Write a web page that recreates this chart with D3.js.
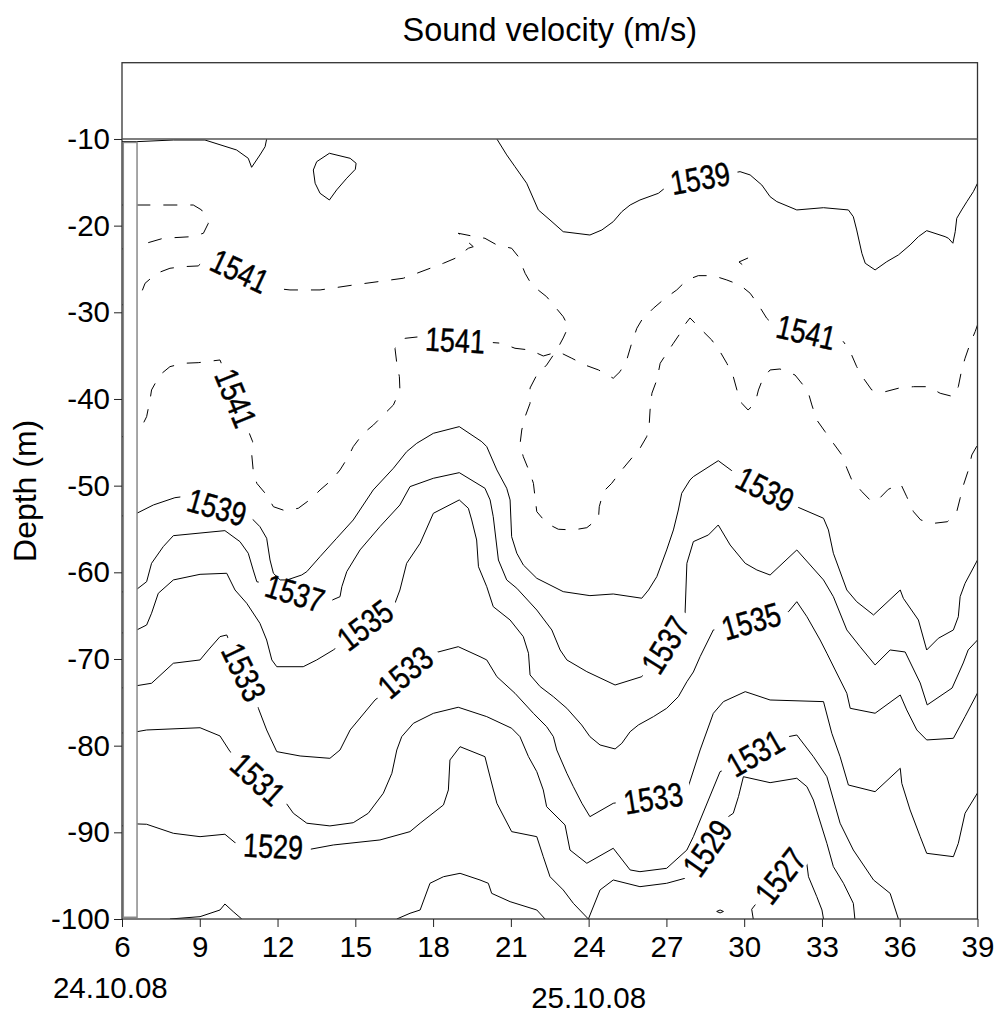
<!DOCTYPE html>
<html>
<head>
<meta charset="utf-8">
<script src="https://cdn.jsdelivr.net/npm/d3@7"></script>
<style>
  body { margin: 0; background: #fff; }
  svg { display: block; font-family: "Liberation Sans", Arial, sans-serif; }
</style>
</head>
<body>
<svg id="chart" width="1001" height="1017"></svg>
<script>
// axis values
const x_ticks = [6, 9, 12, 15, 18, 21, 24, 27, 30, 33, 36, 39];
const y_ticks = [-10, -20, -30, -40, -50, -60, -70, -80, -90, -100];
const x_range = [6, 39];
const top_depth = -1.2;      // top of the empty box above the data
const data_top = -10;
const data_bottom = -100;
const dates = [['24.10.08', 5.55, 0], ['25.10.08', 24, 1]];

// contour lines, [hour, depth]
const c1539_nw = [[6.0,-10.3],[6.57,-10.31],[7.98,-10.12],[9.2,-10.12],[10.42,-11.27],[10.87,-12.23],[11.0,-13.27],[11.32,-11.85],[11.52,-10.89],[11.58,-10.0]];
const c1539_loop = [[14.0,-11.65],[14.8,-12.23],[15.03,-12.8],[15.0,-13.5],[14.67,-14.53],[14.28,-15.88],[14.0,-17.04],[13.64,-16.27],[13.45,-15.11],[13.38,-13.58],[13.51,-12.62],[14.0,-11.65]];
const c1539_top = [[20.46,-10.0],[20.84,-11.84],[21.16,-13.2],[21.61,-15.11],[22.06,-18.19],[22.51,-19.35],[23.02,-20.7],[24.05,-21.08],[24.51,-20.5],[24.95,-19.54],[25.28,-18.39],[25.6,-17.62],[25.98,-17.04],[26.69,-16.27],[27.01,-15.5],[29.84,-13.77],[30.23,-14.15],[30.68,-15.31],[31.0,-16.66],[31.26,-17.23],[32.03,-18.19],[33.06,-17.93],[34.02,-18.19],[34.21,-18.97],[34.34,-20.5],[34.54,-23.19],[34.67,-24.34],[35.05,-25.11],[35.5,-24.16],[35.95,-23.38],[36.4,-22.23],[36.72,-21.27],[37.04,-20.58],[37.75,-21.27],[37.88,-21.46],[38.05,-22.03],[38.14,-20.7],[38.2,-19.15],[38.39,-18.19],[38.59,-17.23],[38.84,-16.08],[39.0,-15.11]];
const c1541_nw = [[6.0,-22.69],[6.57,-22.35],[7.59,-21.46],[8.69,-21.27],[9.14,-20.88],[9.33,-19.73],[9.07,-18.19],[8.75,-17.62],[7.08,-17.62],[6.0,-17.62]];
const c1541_a = [[6.0,-29.15],[6.58,-28.58],[6.69,-28.2],[6.89,-26.65],[7.34,-25.5],[7.85,-24.92],[8.36,-24.73],[8.94,-24.65],[9.33,-23.58],[11.9,-27.23],[12.48,-27.42],[13.64,-27.42],[14.92,-26.85],[16.85,-26.07],[17.37,-25.5],[18.4,-24.34],[18.85,-23.77],[19.36,-22.61],[19.55,-22.43],[18.97,-20.88],[19.49,-21.19],[20.0,-21.46],[20.46,-22.23],[21.03,-22.61],[21.29,-23.58],[21.55,-25.5],[21.81,-26.85],[22.38,-28.2],[23.02,-30.5],[23.22,-31.66],[23.02,-32.96],[22.77,-34.35],[22.38,-36.08],[22.0,-37.23],[21.74,-38.73],[21.74,-40.5],[21.55,-42.04],[21.42,-43.58],[21.35,-45.31],[21.48,-46.66],[21.74,-48.57],[21.87,-49.73],[21.93,-51.27],[22.0,-53.0],[22.38,-54.34],[22.83,-55.03],[23.41,-55.11],[23.93,-54.85],[24.38,-53.76],[24.41,-52.43],[24.57,-50.69],[24.89,-49.73],[25.28,-48.19],[25.6,-47.04],[25.98,-45.69],[26.24,-44.35],[26.34,-42.8],[26.37,-41.27],[26.44,-39.34],[26.63,-37.81],[26.76,-35.88],[27.01,-34.73],[27.27,-33.57],[27.53,-32.42],[27.65,-31.66],[27.91,-30.65],[28.36,-32.04],[28.75,-33.2],[29.07,-34.54],[29.33,-35.88],[29.58,-37.43],[29.72,-38.96],[29.91,-40.5],[30.15,-41.27],[30.42,-40.5],[30.55,-38.96],[30.73,-37.58],[31.0,-36.65],[31.38,-36.54],[31.96,-37.23],[32.27,-38.38],[32.48,-39.34],[32.61,-40.69],[32.8,-42.42],[33.12,-43.77],[33.44,-45.11],[33.77,-46.46],[33.96,-47.99],[34.15,-49.34],[34.54,-50.69],[34.92,-51.85],[35.22,-51.46],[35.56,-50.42],[36.04,-49.81],[36.27,-51.27],[36.53,-53.0],[36.81,-53.96],[37.33,-54.34],[37.84,-54.16],[38.2,-53.0],[38.33,-51.46],[38.46,-49.92],[38.65,-48.19],[38.78,-46.46],[39.0,-45.31]];
const c1541_b = [[6.0,-44.38],[6.76,-43.19],[6.95,-42.04],[7.08,-40.11],[7.14,-38.96],[7.46,-37.23],[7.85,-36.27],[8.36,-35.88],[8.94,-35.81],[9.78,-35.5],[11.04,-44.93],[11.0,-46.26],[11.06,-48.19],[11.2,-49.73],[11.58,-51.08],[11.84,-52.43],[12.29,-52.89],[12.8,-52.61],[13.32,-51.46],[13.64,-50.5],[14.09,-49.34],[14.41,-48.19],[14.73,-46.66],[14.92,-45.5],[15.31,-43.96],[15.7,-43.0],[16.08,-41.85],[16.47,-40.69],[16.72,-38.96],[16.7,-37.43],[16.6,-35.88],[16.53,-34.15],[16.92,-33.0],[17.38,-32.85],[20.65,-33.57],[21.16,-34.15],[21.74,-34.35],[22.25,-35.04],[22.83,-34.54],[23.35,-35.3],[23.86,-36.08],[24.38,-36.65],[24.95,-37.61],[25.21,-36.85],[25.47,-35.5],[25.66,-33.57],[25.86,-31.84],[26.05,-30.88],[26.5,-29.53],[26.95,-28.38],[27.4,-27.42],[27.79,-26.27],[28.23,-25.77],[28.81,-25.77],[29.33,-26.27],[29.84,-26.85],[30.23,-27.8],[30.55,-29.15],[30.87,-30.69],[31.07,-31.27],[33.83,-33.39],[34.09,-34.54],[34.34,-36.27],[34.6,-37.61],[34.92,-38.96],[35.44,-39.16],[35.95,-38.76],[36.53,-38.58],[37.11,-38.58],[37.56,-39.34],[38.07,-39.73],[38.26,-38.58],[38.39,-36.65],[38.52,-35.3],[38.72,-33.57],[38.91,-32.23],[39.0,-31.46]];
const c1541_hook = [[30.15,-23.73],[29.8,-24.19],[30.04,-24.77]];
const c1539_b = [[6.0,-53.5],[6.57,-53.19],[7.21,-52.23],[8.04,-51.39],[8.24,-51.31],[11.0,-53.76],[11.32,-54.73],[11.58,-56.07],[11.71,-58.58],[11.84,-60.11],[12.1,-60.88],[12.37,-60.88],[12.93,-60.31],[13.13,-59.92],[13.64,-58.19],[14.28,-56.07],[14.92,-53.96],[15.69,-50.5],[16.47,-47.99],[16.98,-46.08],[17.37,-45.11],[18.01,-43.96],[19.01,-43.19],[19.88,-44.93],[20.07,-45.5],[20.46,-48.19],[20.84,-50.3],[20.97,-51.65],[21.03,-55.89],[21.23,-57.8],[21.48,-59.15],[22.0,-60.69],[22.51,-61.46],[23.02,-62.23],[24.05,-62.69],[24.95,-62.5],[26.05,-62.99],[26.31,-62.04],[26.63,-60.5],[27.01,-57.42],[27.27,-55.11],[27.46,-52.81],[27.59,-50.88],[27.91,-49.34],[28.04,-48.96],[29.0,-47.12],[29.52,-48.27],[32.03,-52.43],[33.06,-53.76],[33.25,-55.11],[33.44,-57.8],[33.96,-62.04],[34.34,-63.39],[34.99,-64.92],[36.02,-62.04],[36.14,-63.0],[36.72,-65.5],[37.04,-68.96],[37.49,-67.61],[38.07,-66.65],[38.26,-65.12],[38.33,-62.81],[38.52,-61.27],[39.0,-58.58]];
const c1537 = [[6.0,-62.27],[6.57,-61.96],[6.95,-61.08],[7.14,-58.96],[7.59,-57.04],[7.98,-55.77],[9.97,-55.19],[10.55,-56.46],[10.87,-57.8],[11.06,-59.73],[11.2,-61.08],[13.96,-63.39],[14.41,-62.81],[14.48,-61.66],[14.67,-59.92],[15.18,-57.42],[15.95,-54.73],[16.72,-52.23],[17.11,-50.11],[18.01,-49.15],[19.01,-48.5],[20.0,-50.3],[20.2,-51.65],[20.32,-53.58],[20.52,-58.58],[20.84,-60.88],[21.23,-61.84],[22.0,-64.35],[22.58,-66.65],[22.9,-68.96],[23.16,-70.11],[23.93,-71.46],[25.02,-73.0],[26.05,-72.04],[27.72,-64.72],[27.79,-58.96],[28.04,-56.46],[28.62,-55.69],[29.0,-54.54],[29.46,-56.85],[30.04,-58.96],[30.49,-59.73],[31.0,-60.31],[32.03,-57.42],[33.06,-60.88],[33.44,-62.81],[33.96,-66.65],[34.47,-68.58],[35.05,-70.69],[35.63,-68.96],[36.21,-69.19],[36.79,-72.77],[37.06,-75.3],[38.02,-73.35],[38.45,-70.46],[38.64,-68.96],[39.0,-67.81]];
const c1535 = [[6.0,-67.0],[6.57,-66.65],[6.95,-66.08],[7.14,-64.72],[7.4,-62.42],[7.98,-60.88],[9.01,-60.23],[10.04,-60.11],[10.36,-62.04],[10.81,-63.57],[11.32,-65.88],[11.58,-67.81],[11.78,-70.11],[11.97,-70.89],[12.99,-70.89],[13.51,-70.11],[14.15,-68.96],[16.53,-63.57],[16.72,-62.04],[16.98,-58.96],[17.5,-56.65],[18.01,-53.19],[19.01,-51.65],[19.36,-52.61],[19.49,-53.96],[19.68,-56.27],[19.75,-59.35],[20.07,-61.66],[20.32,-63.96],[20.97,-65.5],[21.48,-67.42],[21.68,-69.34],[21.74,-71.84],[22.13,-73.19],[22.64,-74.35],[23.16,-75.69],[23.73,-77.61],[24.05,-78.96],[24.44,-79.92],[25.02,-80.38],[25.28,-79.73],[25.6,-78.39],[25.92,-77.61],[26.5,-76.65],[27.01,-75.69],[27.46,-74.35],[27.79,-72.62],[28.04,-71.5],[28.3,-69.73],[28.81,-66.65],[31.71,-64.54],[32.03,-63.39],[32.42,-65.12],[32.93,-67.81],[33.19,-69.34],[33.51,-71.27],[33.96,-73.96],[34.09,-75.69],[35.05,-76.26],[36.02,-74.15],[36.27,-75.88],[36.66,-78.19],[37.04,-79.34],[38.07,-79.15],[38.52,-76.65],[39.0,-73.92]];
const c1533 = [[6.0,-73.34],[6.57,-73.08],[7.14,-72.8],[7.98,-70.49],[9.01,-70.11],[9.33,-68.96],[9.78,-67.42],[10.04,-67.23],[11.26,-75.69],[11.58,-78.19],[11.97,-80.69],[12.87,-81.19],[14.02,-81.46],[14.41,-80.5],[14.8,-78.19],[15.12,-77.04],[15.76,-74.73],[18.01,-69.34],[18.97,-68.58],[19.81,-69.73],[20.07,-70.11],[20.46,-72.04],[21.16,-73.96],[21.87,-76.27],[22.38,-77.81],[22.64,-78.96],[22.77,-80.5],[23.16,-83.19],[23.41,-84.73],[23.74,-86.65],[24.05,-88.19],[24.95,-86.65],[27.79,-85.23],[28.3,-80.5],[28.81,-76.27],[29.2,-74.92],[30.04,-73.77],[31.0,-74.73],[33.06,-74.92],[33.38,-78.57],[33.7,-81.27],[34.02,-84.54],[35.05,-85.31],[36.02,-82.61],[36.08,-84.35],[36.4,-87.42],[36.79,-90.5],[37.04,-92.42],[38.07,-92.81],[38.26,-91.27],[38.52,-87.8],[39.0,-85.46]];
const c1531 = [[6.0,-78.54],[6.57,-78.39],[6.95,-78.19],[9.01,-77.93],[9.78,-78.88],[10.17,-80.69],[12.29,-86.46],[12.61,-87.8],[13.13,-88.95],[14.02,-89.26],[14.92,-88.89],[15.5,-87.8],[16.08,-85.49],[16.41,-83.19],[16.6,-80.5],[16.79,-78.96],[17.24,-77.42],[18.01,-76.27],[18.97,-75.57],[20.07,-76.65],[21.03,-77.99],[21.35,-78.96],[21.68,-81.27],[22.0,-83.0],[22.25,-85.11],[22.38,-87.04],[23.09,-89.15],[23.28,-92.04],[23.93,-93.57],[24.95,-91.84],[25.6,-94.34],[25.98,-94.54],[27.01,-94.15],[27.79,-92.04],[28.04,-90.5],[28.62,-86.27],[29.07,-83.0],[31.71,-78.96],[32.03,-78.77],[32.67,-81.27],[33.19,-83.58],[33.7,-88.95],[34.21,-92.04],[34.99,-95.5],[35.63,-97.04],[35.95,-100.0]];
const c1529 = [[6.0,-89.26],[6.57,-89.03],[6.95,-89.07],[7.98,-90.11],[9.01,-90.5],[9.97,-90.22],[10.36,-91.19],[13.25,-91.96],[14.15,-91.46],[15.95,-90.88],[17.11,-89.92],[17.5,-88.95],[18.4,-86.84],[18.59,-85.11],[18.65,-81.65],[19.04,-80.12],[20.0,-81.27],[20.13,-82.81],[20.46,-86.65],[21.03,-89.92],[22.0,-90.5],[22.25,-92.81],[22.51,-95.12],[23.02,-96.65],[23.41,-98.19],[23.99,-100.0],[24.44,-96.65],[24.95,-95.5],[25.98,-96.27],[27.01,-95.88],[27.72,-95.3],[29.39,-88.19],[29.58,-87.8],[29.78,-85.88],[29.97,-83.58],[31.0,-84.27],[32.03,-83.76],[32.42,-84.73],[32.67,-86.27],[33.19,-91.27],[33.44,-93.96],[33.83,-95.88],[34.21,-98.19],[34.27,-100.0]];
const c1527_a = [[7.85,-100.0],[9.01,-99.73],[9.78,-98.96],[9.97,-98.27],[10.29,-99.15],[10.62,-100.0]];
const c1527_b = [[16.6,-100.0],[17.11,-99.34],[17.5,-98.96],[17.88,-95.88],[18.4,-95.12],[19.04,-94.73],[19.81,-95.5],[20.13,-95.88],[20.26,-97.04],[20.97,-98.0],[22.0,-98.96],[22.32,-100.0]];
const c1527_c = [[30.35,-100.0],[30.29,-98.88],[30.42,-98.38],[32.35,-92.04],[32.48,-95.12],[32.8,-97.42],[33.0,-98.96],[33.06,-100.0]];
const c1527_dot = [[28.94,-99.13],[29.07,-98.96],[29.2,-99.13],[29.07,-99.3],[28.94,-99.13]];

const contours = [
    ['c1539_nw', c1539_nw, false], ['c1539_loop', c1539_loop, false], ['c1539_top', c1539_top, false],
    ['c1541_nw', c1541_nw, true], ['c1541_a', c1541_a, true], ['c1541_b', c1541_b, true], ['c1541_hook', c1541_hook, true],
    ['c1539_b', c1539_b, false], ['c1537', c1537, false], ['c1535', c1535, false], ['c1533', c1533, false],
    ['c1531', c1531, false], ['c1529', c1529, false],
    ['c1527_a', c1527_a, false], ['c1527_b', c1527_b, false], ['c1527_c', c1527_c, false], ['c1527_dot', c1527_dot, false]
];

// contour labels: text, hour, depth, angle, line
const labels = [
    ['1539', 28.30, -14.50, -10, 'c1539_top'],
    ['1541', 10.55, -25.23, 25, 'c1541_a'],
    ['1541', 10.40, -39.88, 68, 'c1541_b'],
    ['1541', 18.85, -33.19, 3, 'c1541_b'],
    ['1541', 32.39, -32.27, 13, 'c1541_b'],
    ['1539', 9.66, -52.46, 16, 'c1539_b'],
    ['1539', 30.81, -50.38, 27, 'c1539_b'],
    ['1537', 12.67, -62.38, 17, 'c1537'],
    ['1537', 26.95, -68.38, -58, 'c1537'],
    ['1535', 15.37, -66.07, -37, 'c1535'],
    ['1535', 30.27, -65.61, -16, 'c1535'],
    ['1533', 10.71, -71.50, 64, 'c1533'],
    ['1533', 16.92, -71.50, -40, 'c1533'],
    ['1533', 26.49, -86.04, -9, 'c1533'],
    ['1531', 11.25, -83.84, 42, 'c1531'],
    ['1531', 30.42, -80.84, -30, 'c1531'],
    ['1529', 11.83, -91.57, 3, 'c1529'],
    ['1529', 28.57, -91.80, -55, 'c1529'],
    ['1527', 31.39, -95.03, -52, 'c1527_c']
];

// chart setup
const width = 1001, height = 1017;
const plot = { left: 122, right: 977.5, top: 62.7, bottom: 919 };
const tick_font = 29.5;
const label_font = 33.5;
const label_squeeze = 0.8;

let svg = d3.select('#chart');

let x_scale = d3.scaleLinear().domain(x_range).range([plot.left, plot.right]);
let y_scale = d3.scaleLinear().domain([top_depth, data_bottom]).range([plot.top, plot.bottom]);

svg.append('rect').attr('width', width).attr('height', height).attr('fill', 'white');

let defs = svg.append('defs');
defs.append('clipPath').attr('id', 'data_clip')
    .append('rect')
    .attr('x', x_scale(x_range[0]))
    .attr('y', y_scale(data_top))
    .attr('width', x_scale(x_range[1]) - x_scale(x_range[0]))
    .attr('height', y_scale(data_bottom) - y_scale(data_top));

// labels first, to measure their widths
let label_layer = svg.append('g').attr('class', 'labels');
let label_boxes = {};

labels.forEach((l) => {
    let g = label_layer.append('g')
        .attr('transform', `translate(${x_scale(l[1])},${y_scale(l[2])}) rotate(${l[3]})`);
    let t = g.append('text')
        .attr('transform', `scale(${label_squeeze},1)`)
        .attr('text-anchor', 'middle')
        .attr('dy', '0.36em')
        .style('font-size', label_font + 'px')
        .style('fill', 'black')
        .style('stroke', 'black')
        .style('stroke-width', 0.45)
        .text(l[0]);
    let w = t.node().getComputedTextLength() * label_squeeze;
    if (!label_boxes[l[4]]) label_boxes[l[4]] = [];
    label_boxes[l[4]].push({ x: x_scale(l[1]), y: y_scale(l[2]), a: l[3], w: w });
});

// one mask per labelled line so a label only breaks its own line
Object.keys(label_boxes).forEach((name) => {
    let m = defs.append('mask').attr('id', 'mask_' + name)
        .attr('maskUnits', 'userSpaceOnUse')
        .attr('x', 0).attr('y', 0).attr('width', width).attr('height', height);
    m.append('rect').attr('width', width).attr('height', height).attr('fill', 'white');
    label_boxes[name].forEach((b) => {
        m.append('rect')
            .attr('x', -b.w / 2 - 8).attr('y', -14)
            .attr('width', b.w + 16).attr('height', 28)
            .attr('transform', `translate(${b.x},${b.y}) rotate(${b.a})`)
            .attr('fill', 'black');
    });
});

let line = d3.line()
    .x((d) => x_scale(d[0]))
    .y((d) => y_scale(d[1]));

let line_layer = svg.insert('g', '.labels').attr('clip-path', 'url(#data_clip)');
contours.forEach((c) => {
    let p = line_layer.append('g')
        .append('path')
        .datum(c[1])
        .attr('d', line)
        .attr('fill', 'none')
        .attr('stroke', 'black')
        .attr('stroke-width', 1)
        .attr('stroke-dasharray', c[2] ? '14,13' : null);
    if (label_boxes[c[0]]) p.attr('mask', `url(#mask_${c[0]})`);
});

// blank strip at the start of the record
svg.append('rect')
    .attr('x', x_scale(6.05))
    .attr('y', y_scale(-10.4))
    .attr('width', x_scale(6.58) - x_scale(6.05))
    .attr('height', y_scale(-99.8) - y_scale(-10.4))
    .attr('fill', 'white')
    .attr('stroke', '#8a8a8a')
    .attr('stroke-width', 1.5);

// frame and the -10 m line
svg.append('rect')
    .attr('x', plot.left).attr('y', plot.top)
    .attr('width', plot.right - plot.left).attr('height', plot.bottom - plot.top)
    .attr('fill', 'none').attr('stroke', '#333').attr('stroke-width', 1.3);
svg.append('line')
    .attr('x1', plot.left).attr('x2', plot.right)
    .attr('y1', y_scale(data_top)).attr('y2', y_scale(data_top))
    .attr('stroke', '#555').attr('stroke-width', 1.6);

// axes
let x_axis = d3.axisBottom(x_scale).tickValues(x_ticks).tickSize(8).tickPadding(9).tickFormat((d) => String(d));
let y_axis = d3.axisLeft(y_scale).tickValues(y_ticks).tickSize(8).tickPadding(4).tickFormat((d) => String(d));

let gx = svg.append('g').attr('transform', `translate(0,${plot.bottom})`).call(x_axis);
let gy = svg.append('g').attr('transform', `translate(${plot.left},0)`).call(y_axis);
[gx, gy].forEach((g) => {
    g.select('.domain').remove();
    g.selectAll('line').attr('stroke', '#222');
    g.selectAll('text').style('font-size', tick_font + 'px').style('font-family', '"Liberation Sans", Arial, sans-serif').attr('fill', 'black');
});

// date labels under the hour axis
dates.forEach((d) => {
    svg.append('text')
        .attr('x', x_scale(d[1]))
        .attr('y', 998 + d[2] * 10)
        .attr('text-anchor', 'middle')
        .style('font-size', tick_font + 'px')
        .text(d[0]);
});

// titles
svg.append('text')
    .attr('x', (plot.left + plot.right) / 2)
    .attr('y', 41)
    .attr('text-anchor', 'middle')
    .style('font-size', '32.5px')
    .text('Sound velocity (m/s)');

svg.append('text')
    .attr('transform', `translate(36,${(plot.top + plot.bottom) / 2}) rotate(-90)`)
    .attr('text-anchor', 'middle')
    .style('font-size', '32px')
    .text('Depth (m)');
</script>
</body>
</html>
